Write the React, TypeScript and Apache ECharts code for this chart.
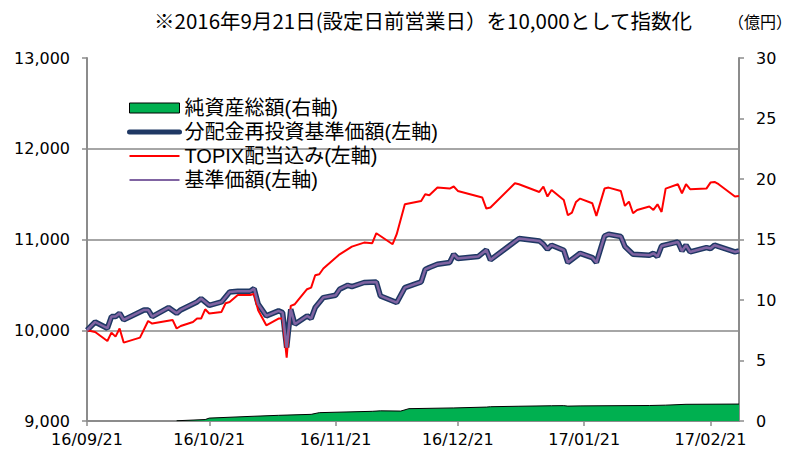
import React, { useEffect, useRef } from "react";
import * as echarts from "echarts";

// ---- data ----
const xTickDates: string[] = ["2016-09-21", "2016-10-21", "2016-11-21", "2016-12-21", "2017-01-21", "2017-02-21"];
const xMin = "2016-09-21";
const xMax = "2017-02-28";

const navReinvested: [string, number][] = [
  ["2016-09-21", 10000], ["2016-09-23", 10091], ["2016-09-26", 10022], ["2016-09-27", 10151],
  ["2016-09-28", 10151], ["2016-09-29", 10187], ["2016-09-30", 10114], ["2016-10-05", 10224],
  ["2016-10-06", 10224], ["2016-10-07", 10151], ["2016-10-11", 10250], ["2016-10-13", 10187],
  ["2016-10-14", 10224], ["2016-10-18", 10312], ["2016-10-19", 10349], ["2016-10-21", 10275],
  ["2016-10-24", 10312], ["2016-10-26", 10422], ["2016-10-28", 10430], ["2016-10-31", 10430],
  ["2016-11-01", 10459], ["2016-11-02", 10290], ["2016-11-04", 10158], ["2016-11-07", 10213],
  ["2016-11-08", 10195], ["2016-11-09", 9809], ["2016-11-10", 10231], ["2016-11-11", 10066],
  ["2016-11-14", 10158], ["2016-11-15", 10129], ["2016-11-16", 10250], ["2016-11-18", 10360],
  ["2016-11-21", 10386], ["2016-11-22", 10452], ["2016-11-24", 10496], ["2016-11-25", 10481],
  ["2016-11-28", 10526], ["2016-12-01", 10532], ["2016-12-02", 10378], ["2016-12-06", 10305],
  ["2016-12-08", 10470], ["2016-12-12", 10532], ["2016-12-13", 10670], ["2016-12-14", 10691],
  ["2016-12-16", 10727], ["2016-12-19", 10746], ["2016-12-20", 10837], ["2016-12-21", 10790],
  ["2016-12-26", 10812], ["2016-12-28", 10885], ["2016-12-29", 10775], ["2017-01-05", 11010],
  ["2017-01-10", 10984], ["2017-01-11", 10948], ["2017-01-12", 10893], ["2017-01-13", 10937],
  ["2017-01-16", 10882], ["2017-01-17", 10746], ["2017-01-20", 10848], ["2017-01-23", 10801],
  ["2017-01-24", 10746], ["2017-01-26", 11039], ["2017-01-27", 11058], ["2017-01-30", 11033],
  ["2017-01-31", 10922], ["2017-02-02", 10837], ["2017-02-06", 10826], ["2017-02-07", 10848],
  ["2017-02-08", 10812], ["2017-02-09", 10929], ["2017-02-13", 10973], ["2017-02-14", 10874],
  ["2017-02-15", 10937], ["2017-02-16", 10863], ["2017-02-20", 10911], ["2017-02-21", 10900],
  ["2017-02-22", 10937], ["2017-02-27", 10863], ["2017-02-28", 10874],
];

// no distributions paid: the base price equals the reinvested price
const navBase: [string, number][] = navReinvested;

const topixTR: [string, number][] = [
  ["2016-09-21", 10000], ["2016-09-23", 9981], ["2016-09-26", 9882], ["2016-09-27", 9974],
  ["2016-09-28", 9930], ["2016-09-29", 10019], ["2016-09-30", 9864], ["2016-10-04", 9919],
  ["2016-10-06", 10102], ["2016-10-07", 10074], ["2016-10-12", 10114], ["2016-10-13", 10019],
  ["2016-10-14", 10047], ["2016-10-17", 10091], ["2016-10-18", 10129], ["2016-10-19", 10129],
  ["2016-10-20", 10231], ["2016-10-21", 10184], ["2016-10-24", 10202], ["2016-10-25", 10298],
  ["2016-10-26", 10312], ["2016-10-28", 10389], ["2016-10-31", 10389], ["2016-11-01", 10400],
  ["2016-11-02", 10220], ["2016-11-04", 10055], ["2016-11-07", 10129], ["2016-11-08", 10129],
  ["2016-11-09", 9699], ["2016-11-10", 10268], ["2016-11-11", 10287], ["2016-11-14", 10452],
  ["2016-11-15", 10470], ["2016-11-16", 10606], ["2016-11-17", 10617], ["2016-11-18", 10680],
  ["2016-11-22", 10837], ["2016-11-25", 10922], ["2016-11-28", 10966], ["2016-11-30", 10959],
  ["2016-12-01", 11069], ["2016-12-05", 10948], ["2016-12-06", 11058], ["2016-12-08", 11388],
  ["2016-12-12", 11425], ["2016-12-13", 11499], ["2016-12-14", 11488], ["2016-12-16", 11572],
  ["2016-12-19", 11561], ["2016-12-20", 11584], ["2016-12-21", 11535], ["2016-12-27", 11462],
  ["2016-12-28", 11341], ["2016-12-29", 11352], ["2017-01-04", 11620], ["2017-01-05", 11609],
  ["2017-01-10", 11524], ["2017-01-11", 11584], ["2017-01-12", 11473], ["2017-01-13", 11546],
  ["2017-01-16", 11436], ["2017-01-17", 11267], ["2017-01-18", 11297], ["2017-01-19", 11414],
  ["2017-01-20", 11451], ["2017-01-23", 11400], ["2017-01-24", 11260], ["2017-01-26", 11561],
  ["2017-01-27", 11572], ["2017-01-30", 11535], ["2017-01-31", 11370], ["2017-02-01", 11418],
  ["2017-02-02", 11289], ["2017-02-03", 11326], ["2017-02-06", 11363], ["2017-02-07", 11326],
  ["2017-02-08", 11388], ["2017-02-09", 11304], ["2017-02-10", 11561], ["2017-02-13", 11609],
  ["2017-02-14", 11510], ["2017-02-15", 11609], ["2017-02-16", 11554], ["2017-02-20", 11561],
  ["2017-02-21", 11627], ["2017-02-22", 11634], ["2017-02-23", 11609], ["2017-02-27", 11473],
  ["2017-02-28", 11480],
];

const netAssets: [string, number][] = [
  ["2016-10-13", 0.02], ["2016-10-20", 0.12], ["2016-10-21", 0.24], ["2016-10-31", 0.38],
  ["2016-11-07", 0.47], ["2016-11-15", 0.55], ["2016-11-17", 0.69], ["2016-11-30", 0.8],
  ["2016-12-02", 0.84], ["2016-12-07", 0.82], ["2016-12-09", 1.02], ["2016-12-20", 1.08],
  ["2016-12-28", 1.15], ["2016-12-29", 1.18], ["2017-01-05", 1.22], ["2017-01-13", 1.26],
  ["2017-01-16", 1.27], ["2017-01-17", 1.23], ["2017-01-20", 1.25], ["2017-02-06", 1.28],
  ["2017-02-10", 1.31], ["2017-02-15", 1.38], ["2017-02-28", 1.4],
];

const seriesNames = ["純資産総額(右軸)", "分配金再投資基準価額(左軸)", "TOPIX配当込み(左軸)", "基準価額(左軸)"];
const titleText = "※2016年9月21日(設定日前営業日）を10,000として指数化";
const unitText = "（億円）";

const ts = (s: string) => {
  const [y, m, d] = s.split("-").map(Number);
  return new Date(y, m - 1, d).getTime();
};
const pad = (n: number) => (n < 10 ? "0" + n : "" + n);
const toXY = (arr: [string, number][]) => arr.map(([d, v]) => [ts(d), v]);

export default function App() {
  const ref = useRef<HTMLDivElement>(null);
  useEffect(() => {
    if (!ref.current) return;
    const chart = echarts.init(ref.current, undefined, { renderer: "svg" });
    const axisGray = "#8C8C8C";
    const numFont = "DejaVu Sans";
    const jpFont = "Noto Sans CJK JP";
    const legendFont = "'Liberation Sans', 'Noto Sans CJK JP', sans-serif";
    const tickVals = xTickDates.map(ts);
    const hiddenSymbol = { opacity: 0 };
    chart.setOption({
      animation: false,
      backgroundColor: "#fff",
      title: [
        { text: titleText, left: 149, top: 5, textStyle: { fontFamily: jpFont, fontSize: 20.5, fontWeight: "normal", color: "#000" } },
        { text: unitText, right: 6, top: 8, textStyle: { fontFamily: jpFont, fontSize: 16, fontWeight: "normal", color: "#000" } },
      ],
      grid: { left: 87, right: 64, top: 58, bottom: 38, containLabel: false },
      legend: {
        orient: "vertical",
        left: 127,
        top: 98,
        padding: 0,
        itemWidth: 50,
        itemHeight: 10,
        itemGap: 4,
        textStyle: { fontFamily: legendFont, fontSize: 20, lineHeight: 20, color: "#000" },
        data: [
          { name: seriesNames[0], icon: "rect", itemStyle: { color: "#00B050", borderColor: "#000", borderWidth: 1 } },
          { name: seriesNames[1], itemStyle: hiddenSymbol, lineStyle: { width: 5, color: "#1F3864", cap: "round" } },
          { name: seriesNames[2], itemStyle: hiddenSymbol, lineStyle: { width: 2, color: "#FF0000" } },
          { name: seriesNames[3], itemStyle: hiddenSymbol, lineStyle: { width: 2, color: "#8064A2" } },
        ],
      },
      xAxis: {
        type: "value",
        min: ts(xMin),
        max: ts(xMax),
        axisLine: { show: true, lineStyle: { color: axisGray, width: 2 } },
        axisTick: { show: true, inside: false, length: 5, customValues: tickVals, lineStyle: { color: axisGray, width: 1.5 } },
        axisLabel: {
          customValues: tickVals,
          margin: 10,
          fontFamily: numFont,
          fontSize: 16,
          color: "#000",
          formatter: (v: number) => {
            const d = new Date(v);
            return pad(d.getFullYear() % 100) + "/" + pad(d.getMonth() + 1) + "/" + pad(d.getDate());
          },
        },
        splitLine: { show: false },
      },
      yAxis: [
        {
          type: "value",
          min: 9000,
          max: 13000,
          interval: 1000,
          position: "left",
          axisLine: { show: true, lineStyle: { color: axisGray, width: 2 } },
          axisTick: { show: true, inside: false, length: 5, lineStyle: { color: axisGray, width: 1.5 } },
          axisLabel: {
            margin: 17,
            fontFamily: numFont,
            fontSize: 16,
            color: "#000",
            formatter: (v: number) => v.toLocaleString("en-US"),
          },
          splitLine: { show: true, showMinLine: false, showMaxLine: false, lineStyle: { color: "#A6A6A6", width: 2 } },
        },
        {
          type: "value",
          min: 0,
          max: 30,
          interval: 5,
          position: "right",
          axisLine: { show: true, lineStyle: { color: axisGray, width: 2 } },
          axisTick: { show: true, inside: false, length: 5, lineStyle: { color: axisGray, width: 1.5 } },
          axisLabel: { margin: 17, fontFamily: numFont, fontSize: 16, color: "#000" },
          splitLine: { show: false },
        },
      ],
      series: [
        {
          name: seriesNames[0],
          type: "line",
          yAxisIndex: 1,
          data: toXY(netAssets),
          symbol: "none",
          color: "#00B050",
          lineStyle: { color: "#000", width: 1 },
          areaStyle: { color: "#00B050", opacity: 1 },
          z: 1,
        },
        {
          name: seriesNames[1],
          type: "line",
          data: toXY(navReinvested),
          symbol: "none",
          color: "#1F3864",
          lineStyle: { color: "#1F3864", width: 5.5 },
          z: 2,
        },
        {
          name: seriesNames[2],
          type: "line",
          data: toXY(topixTR),
          symbol: "none",
          color: "#FF0000",
          lineStyle: { color: "#FF0000", width: 2 },
          z: 3,
        },
        {
          name: seriesNames[3],
          type: "line",
          data: toXY(navBase),
          symbol: "none",
          color: "#8064A2",
          lineStyle: { color: "#8064A2", width: 2.5 },
          z: 4,
        },
      ],
    });
    return () => chart.dispose();
  }, []);
  return <div ref={ref} style={{ position: "absolute", left: 0, top: 0, width: 803, height: 459 }} />;
}
